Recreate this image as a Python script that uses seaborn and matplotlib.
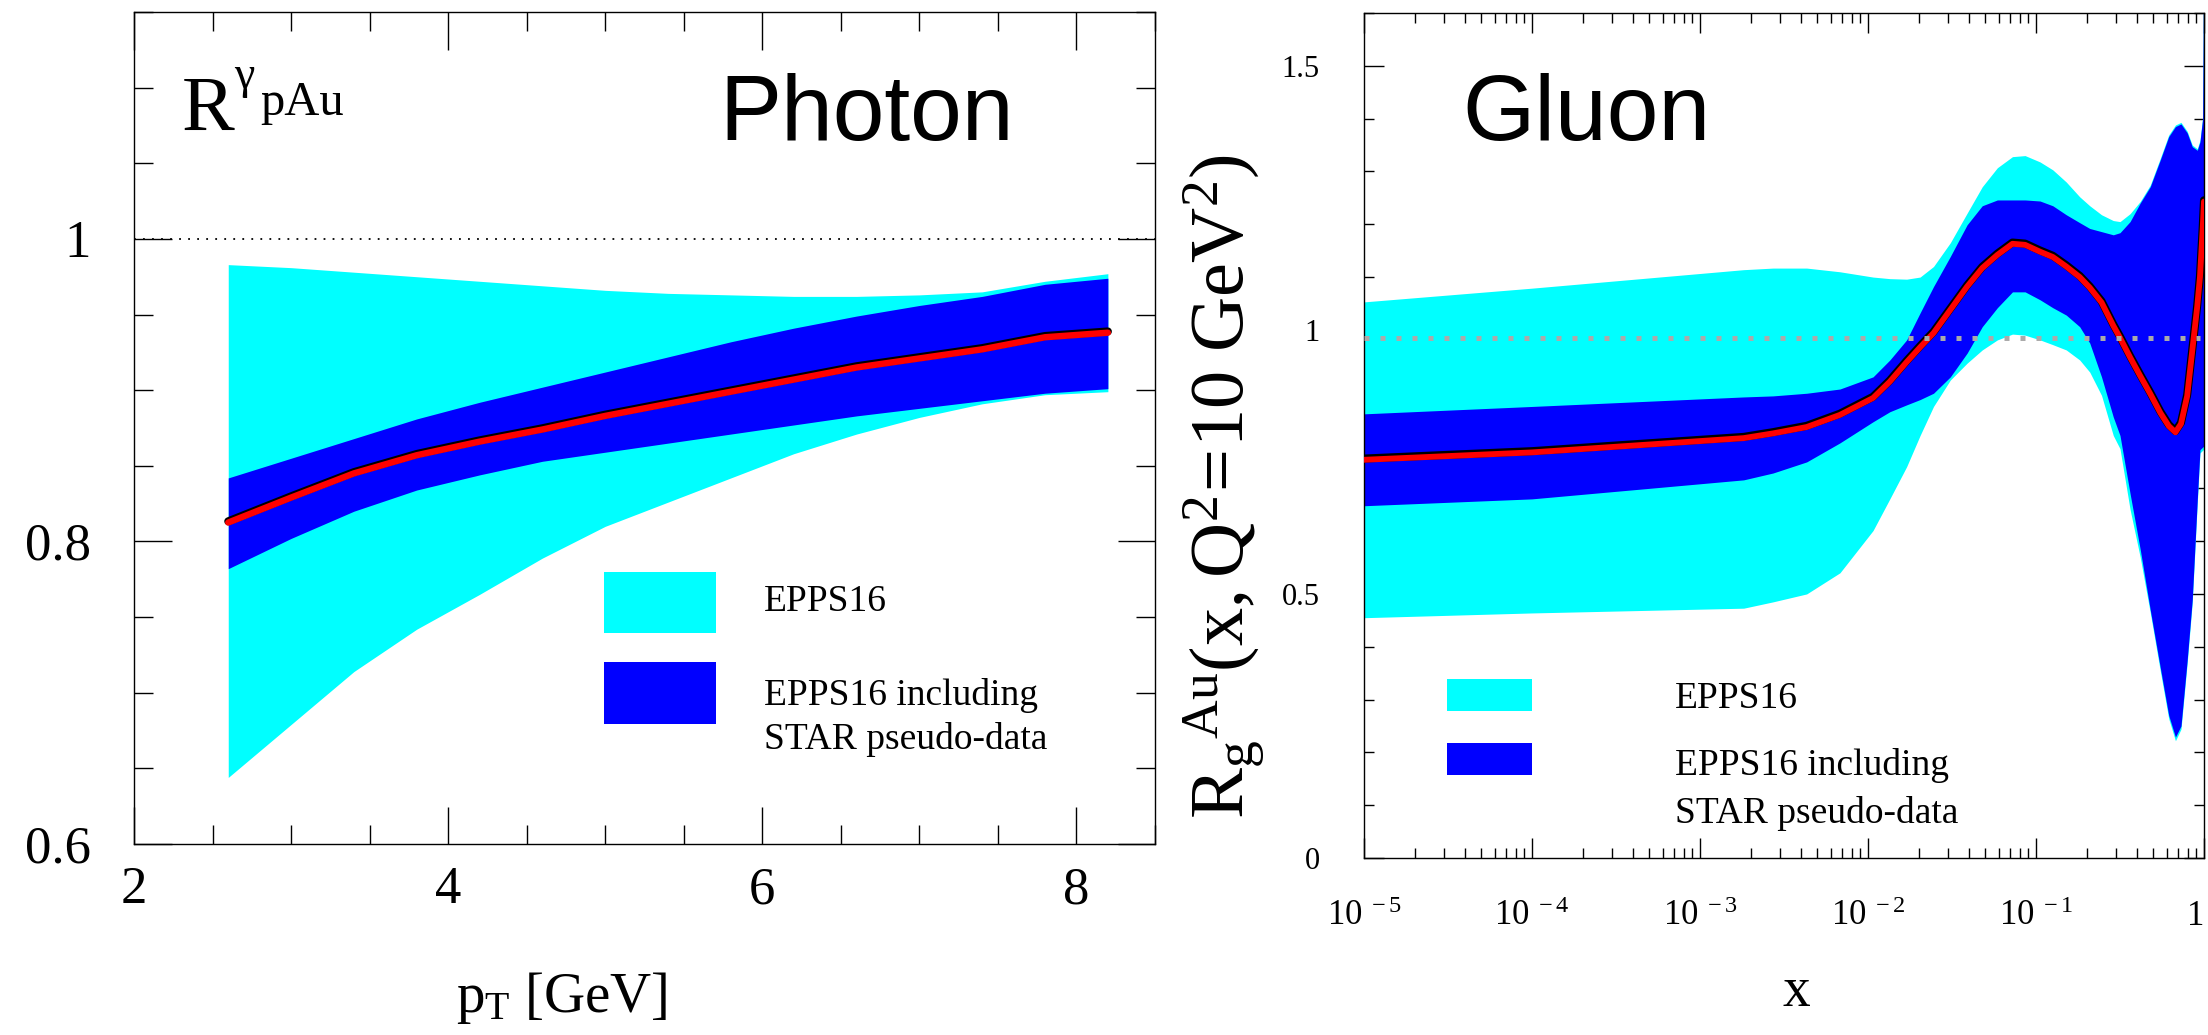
import numpy as np
import matplotlib
matplotlib.use("Agg")
import matplotlib.pyplot as plt
import matplotlib.patheffects as pe
from matplotlib.patches import Rectangle
from matplotlib.ticker import (MultipleLocator, FixedLocator, FixedFormatter,
                               LogLocator, NullFormatter)
import seaborn as sns

# ---------------- data: left panel (photon R_pAu vs pT) ----------------
pt = [2.6, 3.0, 3.4, 3.8, 4.2, 4.6, 5.0, 5.4, 5.8, 6.2, 6.6, 7.0, 7.4, 7.8, 8.2]
photon_epps16_hi = [0.983, 0.981, 0.978, 0.975, 0.972, 0.969, 0.966, 0.964, 0.963,
                    0.962, 0.962, 0.963, 0.965, 0.972, 0.977]
photon_epps16_lo = [0.644, 0.679, 0.714, 0.742, 0.765, 0.789, 0.810, 0.826, 0.842,
                    0.858, 0.871, 0.882, 0.891, 0.897, 0.899]
photon_star_hi = [0.842, 0.855, 0.868, 0.881, 0.892, 0.902, 0.912, 0.922, 0.932,
                  0.941, 0.949, 0.956, 0.962, 0.970, 0.974]
photon_star_lo = [0.782, 0.802, 0.820, 0.834, 0.844, 0.853, 0.859, 0.865, 0.871,
                  0.877, 0.883, 0.888, 0.893, 0.898, 0.901]
photon_central = [0.8125, 0.829, 0.845, 0.857, 0.866, 0.874, 0.883, 0.891, 0.899,
                  0.907, 0.915, 0.921, 0.927, 0.935, 0.938]

# ---------------- data: right panel (gluon R_g^Au vs x) ----------------
gluon_log10_x = [-5, -4, -2.74, -2.565, -2.365, -2.167, -1.97, -1.87, -1.77, -1.69,
                 -1.61, -1.51, -1.41, -1.32, -1.23, -1.14, -1.065, -0.976, -0.90,
                 -0.82, -0.74, -0.68, -0.61, -0.54, -0.50, -0.44, -0.38, -0.32,
                 -0.26, -0.21, -0.17, -0.137, -0.10, -0.07, -0.04, -0.024, -0.008, 0]
gluon_epps16_hi = [1.053, 1.079, 1.114, 1.117, 1.117, 1.110, 1.100, 1.097, 1.096, 1.100,
                   1.120, 1.165, 1.221, 1.271, 1.307, 1.328, 1.330, 1.318, 1.303,
                   1.280, 1.252, 1.235, 1.218, 1.207, 1.205, 1.220, 1.243, 1.274,
                   1.325, 1.369, 1.388, 1.393, 1.376, 1.350, 1.343, 1.359, 1.403, 1.80]
gluon_epps16_lo = [0.455, 0.464, 0.473, 0.485, 0.500, 0.540, 0.620, 0.680, 0.741, 0.800,
                   0.855, 0.905, 0.937, 0.962, 0.981, 0.992, 0.990, 0.981, 0.972,
                   0.962, 0.943, 0.920, 0.876, 0.800, 0.775, 0.660, 0.570, 0.465,
                   0.354, 0.264, 0.222, 0.244, 0.369, 0.483, 0.672, 0.767, 0.772, 0.774]
gluon_star_hi = [0.841, 0.855, 0.873, 0.875, 0.880, 0.888, 0.911, 0.943, 0.981, 1.032,
                 1.082, 1.139, 1.199, 1.235, 1.246, 1.246, 1.246, 1.244, 1.235,
                 1.218, 1.203, 1.192, 1.186, 1.180, 1.184, 1.205, 1.240, 1.271,
                 1.322, 1.366, 1.385, 1.390, 1.373, 1.347, 1.340, 1.356, 1.400, 1.80]
gluon_star_lo = [0.667, 0.680, 0.716, 0.729, 0.750, 0.786, 0.826, 0.845, 0.858, 0.868,
                 0.880, 0.911, 0.956, 1.006, 1.042, 1.072, 1.072, 1.057, 1.042,
                 1.028, 1.006, 0.975, 0.911, 0.835, 0.800, 0.690, 0.585, 0.470,
                 0.360, 0.270, 0.229, 0.250, 0.375, 0.489, 0.678, 0.773, 0.778, 0.780]
gluon_central = [0.754, 0.768, 0.795, 0.804, 0.816, 0.839, 0.871, 0.902, 0.939, 0.967,
                 0.994, 1.038, 1.082, 1.117, 1.142, 1.163, 1.161, 1.148, 1.138,
                 1.120, 1.100, 1.080, 1.052, 1.008, 0.985, 0.948, 0.913, 0.879,
                 0.843, 0.818, 0.806, 0.822, 0.875, 0.960, 1.045, 1.100, 1.190, 1.243]
gluon_x = [10.0 ** v for v in gluon_log10_x]

legend_labels = ["EPPS16", "EPPS16 including", "STAR pseudo-data"]
gluon_xtick_labels = [r"$\mathrm{10^{\ -5}}$", r"$\mathrm{10^{\ -4}}$", r"$\mathrm{10^{\ -3}}$",
                      r"$\mathrm{10^{\ -2}}$", r"$\mathrm{10^{\ -1}}$", "1"]

CYAN = "#00ffff"
BLUE = "#0000ff"

# ---------------- style ----------------
sns.set_theme(style="ticks")
plt.rcParams["font.family"] = ["Liberation Serif", "DejaVu Serif"]
plt.rcParams["mathtext.fontset"] = "custom"
plt.rcParams["mathtext.rm"] = "Liberation Serif"
plt.rcParams["mathtext.it"] = "Liberation Serif:italic"
plt.rcParams["mathtext.bf"] = "Liberation Serif:bold"
plt.rcParams["axes.edgecolor"] = "black"
plt.rcParams["xtick.color"] = "black"
plt.rcParams["ytick.color"] = "black"
plt.rcParams["text.color"] = "black"
plt.rcParams["axes.labelcolor"] = "black"

W, H = 2208, 1035
fig = plt.figure(figsize=(W / 100, H / 100), dpi=100)
fig.patch.set_facecolor("white")

axL = fig.add_axes([134 / W, 1 - 844 / H, 1021 / W, 832 / H])
axR = fig.add_axes([1364 / W, 1 - 858 / H, 840 / W, 845 / H])
for ax in (axL, axR):
    ax.set_facecolor("white")
    for s in ax.spines.values():
        s.set_color("black")
        s.set_linewidth(1.0)

outline = [pe.Stroke(linewidth=5.8, foreground="black", offset=(0, 0.9)), pe.Normal()]

# ---------------- left panel ----------------
axL.fill_between(pt, photon_epps16_lo, photon_epps16_hi, color=CYAN, lw=0, zorder=1)
axL.fill_between(pt, photon_star_lo, photon_star_hi, color=BLUE, lw=0, zorder=2)
sns.lineplot(x=pt, y=photon_central, ax=axL, color="red", lw=4.6, sort=False,
             errorbar=None, path_effects=outline, zorder=3)
axL.axhline(1.0, color="black", lw=1.3, ls=(0, (1, 4)), zorder=0)

axL.set_xlim(2, 8.5)
axL.set_ylim(0.6, 1.15)
axL.xaxis.set_major_locator(FixedLocator([2, 4, 6, 8]))
axL.xaxis.set_major_formatter(FixedFormatter(["2", "4", "6", "8"]))
axL.xaxis.set_minor_locator(MultipleLocator(0.5))
axL.yaxis.set_major_locator(FixedLocator([0.6, 0.8, 1.0]))
axL.yaxis.set_major_formatter(FixedFormatter(["0.6", "0.8", "1"]))
axL.yaxis.set_minor_locator(MultipleLocator(0.05))
axL.tick_params(which="both", direction="in", top=True, right=True, width=1.0,
                labelsize=38)
axL.tick_params(which="major", length=27)
axL.tick_params(which="minor", length=13.5)
axL.tick_params(axis="x", which="major", pad=16)
axL.tick_params(axis="y", which="major", pad=31)
axL.set_xlabel(r"$\mathrm{p_{T}\ [GeV]}$", fontsize=41)
axL.xaxis.set_label_coords(0.419, -0.152)
axL.set_ylabel("")

axL.text(0.047, 0.858, "R", transform=axL.transAxes, fontsize=57, va="baseline", ha="left")
axL.text(0.098, 0.909, "γ", transform=axL.transAxes, fontsize=33, va="baseline", ha="left")
axL.text(0.124, 0.876, "pAu", transform=axL.transAxes, fontsize=35, va="baseline", ha="left")
axL.text(0.573, 0.846, "Photon", transform=axL.transAxes, fontsize=67,
         family=["Liberation Sans", "DejaVu Sans"], va="baseline", ha="left")

# legend (left)
axL.add_patch(Rectangle((0.4603, 0.2536), 0.1097, 0.0733, transform=axL.transAxes,
                        facecolor=CYAN, edgecolor="none", zorder=4))
axL.add_patch(Rectangle((0.4603, 0.1442), 0.1097, 0.0745, transform=axL.transAxes,
                        facecolor=BLUE, edgecolor="none", zorder=4))
axL.text(0.617, 0.291, legend_labels[0], transform=axL.transAxes, fontsize=27, va="center")
axL.text(0.617, 0.179, legend_labels[1], transform=axL.transAxes, fontsize=27, va="center")
axL.text(0.617, 0.126, legend_labels[2], transform=axL.transAxes, fontsize=27, va="center")

# ---------------- right panel ----------------
axR.set_xscale("log")
axR.fill_between(gluon_x, gluon_epps16_lo, gluon_epps16_hi, color=CYAN, lw=0, zorder=1)
axR.fill_between(gluon_x, gluon_star_lo, gluon_star_hi, color=BLUE, lw=0, zorder=2)
sns.lineplot(x=gluon_x, y=gluon_central, ax=axR, color="red", lw=4.2, sort=False,
             errorbar=None, path_effects=outline, zorder=3)
axR.axhline(0.985, xmin=0.0, xmax=0.995, color="#aaaaaa", lw=3.6,
            ls=(0, (1, 2.2)), zorder=4)

axR.set_xlim(1e-5, 1)
axR.set_ylim(0, 1.6)
axR.xaxis.set_major_locator(FixedLocator([1e-5, 1e-4, 1e-3, 1e-2, 1e-1, 1]))
axR.xaxis.set_major_formatter(FixedFormatter(gluon_xtick_labels))
axR.xaxis.set_minor_locator(LogLocator(base=10, subs=np.arange(2, 10), numticks=30))
axR.xaxis.set_minor_formatter(NullFormatter())
axR.yaxis.set_major_locator(FixedLocator([0, 0.5, 1.0, 1.5]))
axR.yaxis.set_major_formatter(FixedFormatter(["0", "0.5", "1", "1.5"]))
axR.yaxis.set_minor_locator(MultipleLocator(0.1))
axR.tick_params(which="both", direction="in", top=True, right=True, width=1.0,
                labelsize=22)
axR.tick_params(axis="x", which="major", labelsize=25)
axR.tick_params(which="major", length=14.5)
axR.tick_params(which="minor", length=7.2)
axR.tick_params(axis="x", which="major", pad=30)
axR.tick_params(axis="y", which="major", pad=32)
axR.set_xlabel(r"$\mathrm{x}$", fontsize=40)
axR.xaxis.set_label_coords(0.515, -0.128)
axR.set_ylabel(r"$\mathrm{R_{g}{}^{Au}(x,Q^{2}\!=\!10\ GeV^{2})}$", fontsize=55)
axR.yaxis.set_label_coords(-0.115, 0.44)

# keep the last tick label ("1") inside the picture
fig.canvas.draw()
xt_labels = axR.get_xticklabels()
if xt_labels:
    xt_labels[-1].set_horizontalalignment("right")

axR.text(0.1167, 0.85, "Gluon", transform=axR.transAxes, fontsize=67,
         family=["Liberation Sans", "DejaVu Sans"], va="baseline", ha="left")

# legend (right)
axR.add_patch(Rectangle((0.0988, 0.174), 0.1012, 0.0379, transform=axR.transAxes,
                        facecolor=CYAN, edgecolor="none", zorder=4))
axR.add_patch(Rectangle((0.0988, 0.0982), 0.1012, 0.0379, transform=axR.transAxes,
                        facecolor=BLUE, edgecolor="none", zorder=4))
axR.text(0.370, 0.189, legend_labels[0], transform=axR.transAxes, fontsize=27, va="center")
axR.text(0.370, 0.110, legend_labels[1], transform=axR.transAxes, fontsize=27, va="center")
axR.text(0.370, 0.053, legend_labels[2], transform=axR.transAxes, fontsize=27, va="center")

fig.savefig("out.png", dpi=100, facecolor="white")
